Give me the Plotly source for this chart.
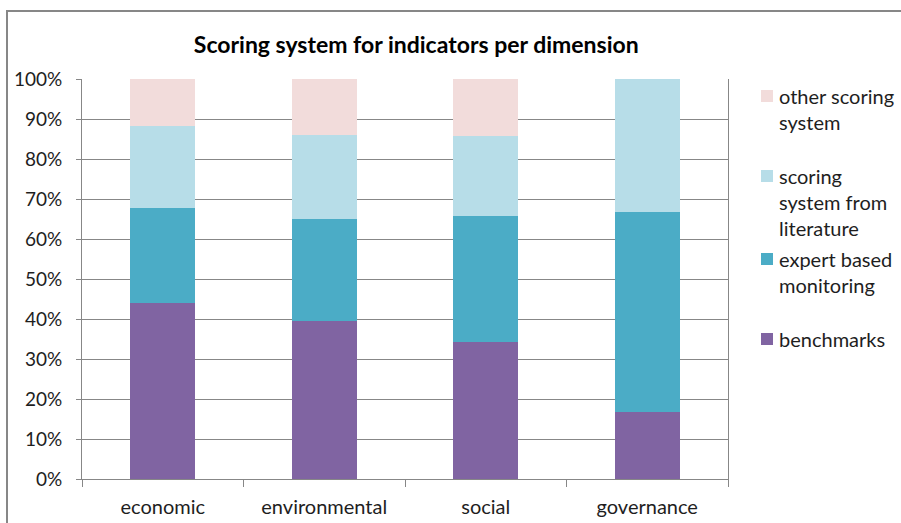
import plotly.graph_objects as go

# Indicator counts per dimension, by scoring system
dimensions = ["economic", "environmental", "social", "governance"]
benchmarks = [15, 17, 12, 1]
expert_based = [8, 11, 11, 3]
literature = [7, 9, 7, 2]
other_system = [4, 6, 5, 0]

series_names = [
    "benchmarks",
    "expert based monitoring",
    "scoring system from literature",
    "other scoring system",
]
legend_labels = [
    "benchmarks",
    "expert based<br>monitoring",
    "scoring<br>system from<br>literature",
    "other scoring<br>system",
]
series_values = [benchmarks, expert_based, literature, other_system]
colors = ["#8064A2", "#4BACC6", "#B7DDE8", "#F2DCDB"]
pct_ticks = list(range(0, 101, 10))
pct_labels = [f"{v}%" for v in pct_ticks]

FONT = "Lato"
GRID = "#878787"
TEXT = "#1e1e1e"

fig = go.Figure()
for name, vals, col in zip(series_names, series_values, colors):
    fig.add_trace(go.Bar(
        x=dimensions, y=vals, name=name,
        marker=dict(color=col, line=dict(width=0)),
        showlegend=False,
    ))

fig.update_layout(
    barmode="stack",
    barnorm="percent",
    bargap=0.6,
    width=901, height=523,
    margin=dict(l=82, r=173, t=79, b=44),
    paper_bgcolor="white",
    plot_bgcolor="white",
    font=dict(family=FONT, size=20, color=TEXT),
    title=dict(
        text="<b>Scoring system for indicators per dimension</b>",
        font=dict(family=FONT, size=23, color="#000000"),
        xref="container", x=0.462, xanchor="center",
        yref="container", y=1 - 45 / 523, yanchor="middle",
        automargin=False,
    ),
    xaxis=dict(
        automargin=False,
        showline=True, linecolor=GRID, linewidth=1,
        ticks="outside", tickson="boundaries", ticklen=7, tickcolor=GRID,
        showgrid=False,
        tickfont=dict(family=FONT, size=20, color=TEXT),
        ticklabelstandoff=10,
    ),
    yaxis=dict(
        automargin=False,
        range=[0, 100], tickmode="array",
        tickvals=pct_ticks, ticktext=pct_labels,
        showline=True, linecolor=GRID, linewidth=1, mirror=True,
        ticks="outside", ticklen=5, tickcolor=GRID,
        showgrid=True, gridcolor=GRID, gridwidth=1,
        zeroline=False,
        tickfont=dict(family=FONT, size=19, color=TEXT),
        ticklabelstandoff=10,
    ),
)

# Outer chart border
fig.add_shape(type="rect", xref="paper", yref="paper",
              x0=(7 - 82) / 646, x1=(905 - 82) / 646,
              y0=(479 - 530) / 400, y1=(479 - 11) / 400,
              line=dict(color="#878787", width=2), fillcolor="rgba(0,0,0,0)",
              layer="below")

# Legend, drawn top to bottom
legend_tops = [339, 259, 176, 96]  # first-line centre, in pixels from top
for label, col, ytop in zip(legend_labels, colors, legend_tops):
    yc = (479 - ytop) / 400
    fig.add_shape(type="rect", xref="paper", yref="paper",
                  x0=(761 - 82) / 646, x1=(773 - 82) / 646,
                  y0=yc - 6 / 400, y1=yc + 6 / 400,
                  fillcolor=col, line=dict(width=0))
    fig.add_annotation(xref="paper", yref="paper",
                       x=(777 - 82) / 646, y=(479 - ytop + 14) / 400,
                       xanchor="left", yanchor="top", align="left",
                       text=label, showarrow=False,
                       font=dict(family=FONT, size=20, color=TEXT))

fig.write_html("out.html")
